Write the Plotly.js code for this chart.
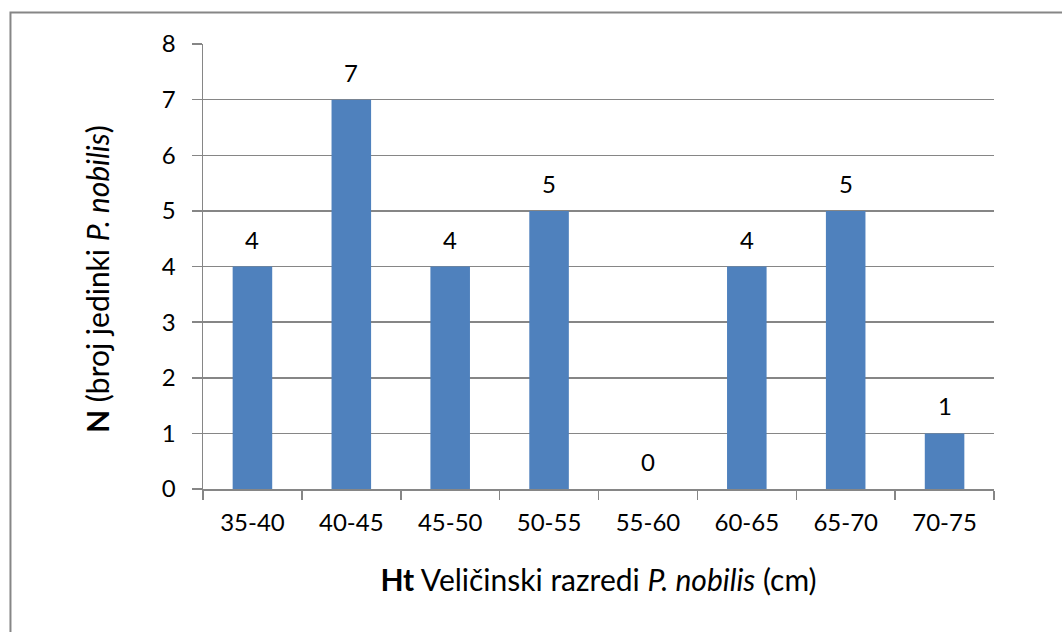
<!DOCTYPE html>
<html>
<head>
<meta charset="utf-8">
<script src="https://cdn.plot.ly/plotly-3.0.1.min.js"></script>
<style>html,body{margin:0;padding:0;background:#fff;}#chart{width:1062px;height:632px;}</style>
</head>
<body>
<div id="chart"></div>
<script>
const categories = ["35-40","40-45","45-50","50-55","55-60","60-65","65-70","70-75"];
const counts = [4, 7, 4, 5, 0, 4, 5, 1];
const yTicks = [0,1,2,3,4,5,6,7,8];

const FONT = "Lato, 'Liberation Sans', sans-serif";
const GRAY = "#868686";

const trace = {
  type: "bar",
  x: categories,
  y: counts,
  marker: {color: "#4F81BD"},
  hoverinfo: "x+y"
};

const labelAnnotations = categories.map((c, i) => ({
  x: c, y: counts[i], xref: "x", yref: "y",
  text: String(counts[i]), showarrow: false,
  yanchor: "bottom", yshift: 11,
  font: {family: FONT, size: 24, color: "#000"}
}));

const yTitle = {
  text: "<b>N</b> (broj jedinki <i>P. nobilis</i>)",
  xref: "paper", yref: "paper", x: -0.134, y: 0.472,
  xanchor: "center", yanchor: "middle", textangle: -90, showarrow: false,
  font: {family: FONT, size: 30, color: "#000"}
};

const layout = {
  width: 1062, height: 632,
  margin: {l: 203, r: 68, t: 44, b: 143, pad: 0},
  paper_bgcolor: "#fff", plot_bgcolor: "#fff",
  showlegend: false,
  bargap: 0.6,
  font: {family: FONT, size: 24, color: "#000"},
  xaxis: {
    type: "category",
    tickson: "boundaries",
    ticks: "outside", ticklen: 9, tickwidth: 1.5, tickcolor: GRAY,
    showline: true, linecolor: GRAY, linewidth: 1.5,
    showgrid: false, zeroline: false,
    ticklabelstandoff: 12,
    tickfont: {family: FONT, size: 24, color: "#000"},
    automargin: false,
    title: {text: "<b>Ht</b> Veličinski razredi <i>P. nobilis</i> (cm)", font: {family: FONT, size: 30, color: "#000"}, standoff: 34}
  },
  yaxis: {
    range: [0, 8],
    tickvals: yTicks,
    ticks: "outside", ticklen: 10, tickwidth: 1.5, tickcolor: GRAY,
    showline: true, linecolor: GRAY, linewidth: 1.5,
    showgrid: true, gridcolor: GRAY, gridwidth: 1.5,
    zeroline: false,
    ticklabelstandoff: 11,
    tickfont: {family: FONT, size: 24, color: "#000"},
    automargin: false
  },
  annotations: labelAnnotations.concat([yTitle]),
  shapes: [{
    type: "rect", xref: "paper", yref: "paper",
    x0: -0.2434, x1: 1.3, y0: -0.5, y1: 1.0708,
    line: {color: GRAY, width: 2}, fillcolor: "rgba(0,0,0,0)", layer: "below"
  }]
};

Plotly.newPlot("chart", [trace], layout, {displayModeBar: false, staticPlot: true});
</script>
</body>
</html>
